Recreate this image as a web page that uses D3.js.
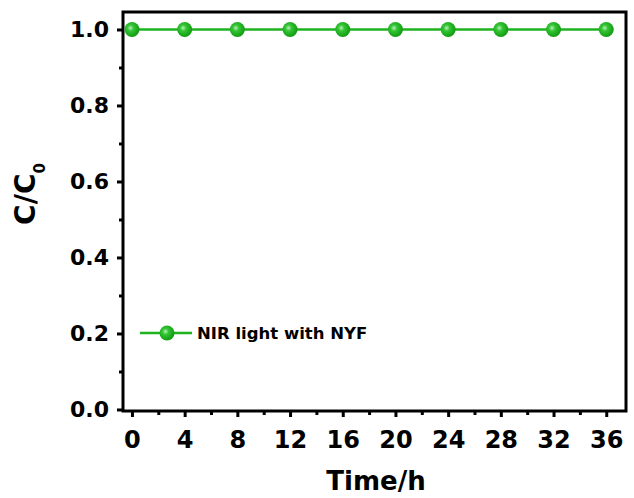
<!DOCTYPE html>
<html><head><meta charset="utf-8">
<script src="https://cdn.jsdelivr.net/npm/d3@7"></script>
<style>body{margin:0;background:#fff}svg{display:block}</style>
</head><body>
<script>
const times = [0,4,8,12,16,20,24,28,32,36];
const ratio = [1,1,1,1,1,1,1,1,1,1];
const seriesName = "NIR light with NYF";
const xTicks = [0,4,8,12,16,20,24,28,32,36];
const yTicks = [0,0.2,0.4,0.6,0.8,1.0];

const W=634,H=498;
const L=123,R=626,T=12,B=411;
const svg=d3.select("body").append("svg").attr("width",W).attr("height",H);
const x=d3.scaleLinear().domain([-0.68,37.5]).range([L,R]);
const y=d3.scaleLinear().domain([-0.004,1.046]).range([B,T]);
const green="#1fb21f";
const font="'DejaVu Sans', sans-serif";

const defs=svg.append("defs");
const g=defs.append("radialGradient").attr("id","mk").attr("cx","40%").attr("cy","40%").attr("r","60%");
g.append("stop").attr("offset","0%").attr("stop-color","#b8f0b8");
g.append("stop").attr("offset","35%").attr("stop-color","#33c433");
g.append("stop").attr("offset","100%").attr("stop-color","#129c12");

// axes
const xAx=svg.append("g").attr("transform",`translate(0,${B})`)
  .call(d3.axisBottom(x).tickValues(xTicks).tickSize(6).tickSizeOuter(0).tickPadding(14).tickFormat(d3.format("d")));
const xMin=svg.append("g").attr("transform",`translate(0,${B})`)
  .call(d3.axisBottom(x).tickValues(d3.range(2,37,4)).tickSize(4).tickSizeOuter(0).tickFormat(""));
const yAx=svg.append("g").attr("transform",`translate(${L},0)`)
  .call(d3.axisLeft(y).tickValues(yTicks).tickSize(6).tickSizeOuter(0).tickPadding(8).tickFormat(d3.format(".1f")));
const yMin=svg.append("g").attr("transform",`translate(${L},0)`)
  .call(d3.axisLeft(y).tickValues([0.1,0.3,0.5,0.7,0.9]).tickSize(4).tickSizeOuter(0).tickFormat(""));
[xAx,xMin,yAx,yMin].forEach(a=>{
  a.select(".domain").remove();
  a.selectAll("line").attr("stroke","#000").attr("stroke-width",3);
  a.selectAll("text").attr("fill","#000").style("font-family",font).style("font-weight","bold").style("font-size","22px");
});
xAx.selectAll("text").style("font-size","24px");
// frame
svg.append("rect").attr("x",L).attr("y",T).attr("width",R-L).attr("height",B-T)
  .attr("fill","none").attr("stroke","#000").attr("stroke-width",3);

// line
const data=times.map((t,i)=>({t,v:ratio[i]}));
svg.append("path").datum(data).attr("fill","none").attr("stroke",green).attr("stroke-width",2.5)
  .attr("d",d3.line().x(d=>x(d.t)).y(d=>y(d.v)));
svg.selectAll("circle.pt").data(data).join("circle").attr("class","pt")
  .attr("cx",d=>x(d.t)).attr("cy",d=>y(d.v)).attr("r",7.5).attr("fill","url(#mk)");

// legend
const ly=333;
svg.append("line").attr("x1",140).attr("x2",192).attr("y1",ly).attr("y2",ly).attr("stroke",green).attr("stroke-width",2.5);
svg.append("circle").attr("cx",167).attr("cy",ly).attr("r",7.5).attr("fill","url(#mk)");
svg.append("text").attr("x",197).attr("y",ly+6).text(seriesName)
  .style("font-family",font).style("font-weight","bold").style("font-size","16.5px").attr("fill","#000");

// axis titles
svg.append("text").attr("x",376).attr("y",490).attr("text-anchor","middle")
  .style("font-family",font).style("font-weight","bold").style("font-size","26px").text("Time/h");
const yl=svg.append("text").attr("transform","translate(35,194) rotate(-90)").attr("text-anchor","middle")
  .style("font-family",font).style("font-weight","bold").style("font-size","28px");
yl.append("tspan").text("C/C");
yl.append("tspan").attr("dy",10).style("font-size","15px").text("0");
</script>
</body></html>
